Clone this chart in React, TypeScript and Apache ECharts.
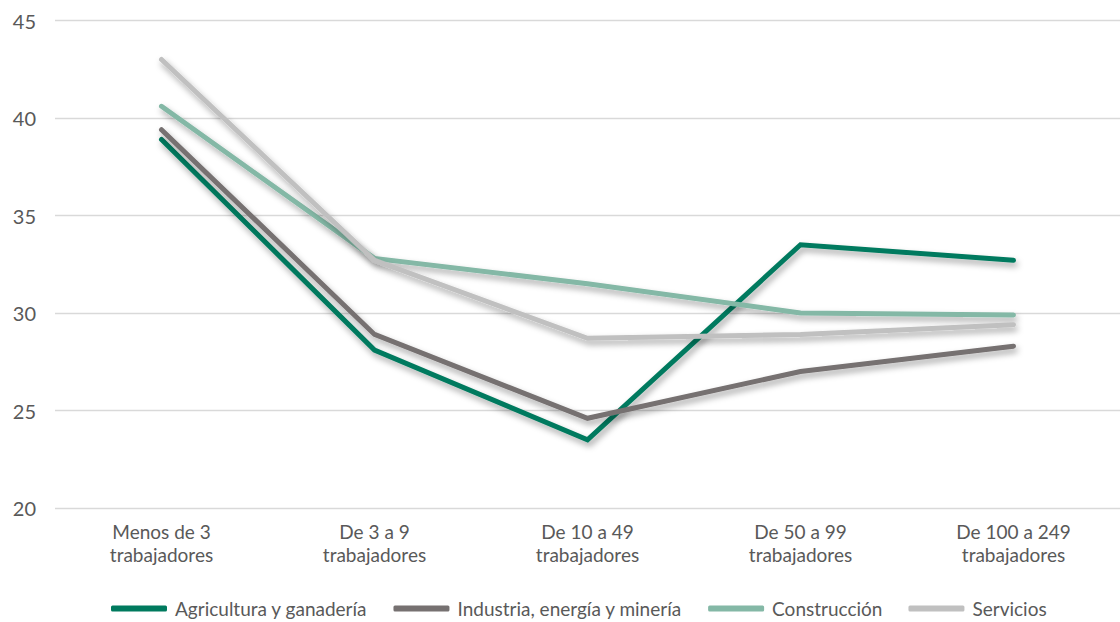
import React, { useEffect, useRef } from "react";
import * as echarts from "echarts";

const categories = [
  "Menos de 3\ntrabajadores",
  "De 3 a 9\ntrabajadores",
  "De 10 a 49\ntrabajadores",
  "De 50 a 99\ntrabajadores",
  "De 100 a 249\ntrabajadores",
];
const agricultura = [38.9, 28.1, 23.5, 33.5, 32.7];
const industria = [39.4, 28.9, 24.6, 27.0, 28.3];
const construccion = [40.6, 32.8, 31.5, 30.0, 29.9];
const servicios = [43.0, 32.7, 28.7, 28.9, 29.4];

const seriesDefs = [
  { name: "Agricultura y ganadería", data: agricultura, color: "#007A5E" },
  { name: "Industria, energía y minería", data: industria, color: "#767171" },
  { name: "Construcción", data: construccion, color: "#84B8A6" },
  { name: "Servicios", data: servicios, color: "#C0C0C0" },
];

const FONT = "Lato, 'Noto Sans', sans-serif";

export default function App() {
  const ref = useRef<HTMLDivElement>(null);
  useEffect(() => {
    if (!ref.current) return;
    const chart = echarts.init(ref.current, undefined, { renderer: "svg" });
    chart.setOption({
      animation: false,
      backgroundColor: "#ffffff",
      textStyle: { fontFamily: FONT },
      grid: { left: 55, right: -4, top: 20.5, bottom: 114 },
      xAxis: {
        type: "category",
        data: categories,
        boundaryGap: true,
        axisLine: { show: false },
        axisTick: { show: false },
        axisLabel: {
          color: "#595959",
          fontSize: 19,
          lineHeight: 23,
          margin: 12,
          fontFamily: FONT,
        },
      },
      yAxis: {
        type: "value",
        min: 20,
        max: 45,
        interval: 5,
        axisLine: { show: false },
        axisTick: { show: false },
        splitLine: { lineStyle: { color: "#D9D9D9", width: 1.3 } },
        axisLabel: { color: "#595959", fontSize: 20, margin: 19, fontFamily: FONT },
      },
      legend: {
        bottom: -1,
        left: 106,
        itemWidth: 56,
        itemHeight: 6,
        itemGap: 26,
        icon: "roundRect",
        textStyle: { color: "#595959", fontSize: 19, fontFamily: FONT, padding: [0, 0, 0, 3] },
        data: seriesDefs.map((s) => ({ name: s.name, itemStyle: { color: s.color } })),
      },
      series: seriesDefs.map((s) => ({
        type: "line",
        name: s.name,
        data: s.data,
        color: s.color,
        symbol: "none",
        lineStyle: {
          color: s.color,
          width: 5,
          cap: "round",
          join: "miter",
          shadowColor: "rgba(0,0,0,0.35)",
          shadowBlur: 6,
          shadowOffsetX: 2,
          shadowOffsetY: 4,
        },
      })),
    });
    return () => chart.dispose();
  }, []);
  return (
    <div
      ref={ref}
      style={{ position: "fixed", left: 0, top: 0, width: 1120, height: 622 }}
    />
  );
}
